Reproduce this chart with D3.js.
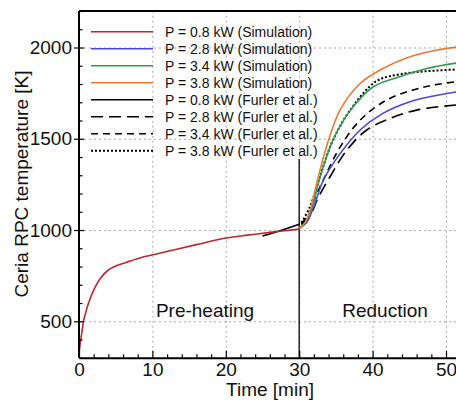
<!DOCTYPE html>
<html>
<head>
<meta charset="utf-8">
<style>
  body { margin: 0; background: #fff; }
  svg { display: block; font-family: "Liberation Sans", Arial, sans-serif; }
  .grid line { stroke: #aaa; stroke-dasharray: 2,3; stroke-width: 1; }
  .grid path { display: none; }
  .ax path { stroke: #000; stroke-width: 2; }
  .ax line { stroke: #000; stroke-width: 1.2; }
  .ax text { font-size: 19px; fill: #111; font-family: "Liberation Sans", Arial, sans-serif; }
</style>
</head>
<body>
<svg id="chart" width="456" height="402"></svg>
<script src="https://cdn.jsdelivr.net/npm/d3@7"></script>
<script>
// series data (time in min, temperature in K)
const tRed   = [0, 0.2, 0.4, 0.6, 1.0, 1.3, 2, 2.9, 4, 5, 6.3, 8.5, 10.4, 13, 16, 20, 23, 26, 28, 30]
const vRed   = [320, 390, 440, 498, 560, 600, 671, 735, 781, 803, 821, 850, 867, 892, 920, 956, 972, 987, 996, 1005]
const tBlue  = [30, 31, 32, 33.3, 35.6, 38.3, 41.4, 45.1, 48.3, 52, 55]
const vBlue  = [1010, 1040, 1130, 1274, 1420, 1548, 1639, 1703, 1734, 1760, 1775]
const tGreen = [30, 30.8, 31.8, 32.8, 34.6, 37, 40.1, 43.7, 47.4, 52, 55]
const vGreen = [1010, 1040, 1130, 1283, 1493, 1657, 1785, 1840, 1885, 1918, 1930]
const tOrange = [30, 30.6, 31.5, 32.6, 34, 35.6, 38.3, 41.4, 45.1, 48.3, 52, 55]
const vOrange = [1010, 1030, 1110, 1292, 1493, 1660, 1803, 1885, 1949, 1982, 2005, 2015]
const tF08 = [25, 27.4, 30.1]
const vF08 = [967, 996, 1033]
const tF28 = [30.3, 31.5, 32.5, 34.2, 36.5, 39.2, 42.4, 46, 52, 55]
const vF28 = [1030, 1080, 1170, 1292, 1438, 1548, 1612, 1657, 1688, 1700]
const tF34 = [30.3, 31.5, 32, 33.5, 35.6, 38.3, 41.9, 45.5, 48.3, 52, 55]
const vF34 = [1035, 1100, 1160, 1292, 1456, 1602, 1712, 1767, 1794, 1815, 1825]
const tF38 = [30.3, 31.5, 32.8, 34.6, 37, 40.5, 44, 48, 52, 55]
const vF38 = [1040, 1130, 1290, 1493, 1660, 1815, 1855, 1872, 1880, 1882]

const legendLabels = ["P = 0.8 kW (Simulation)", "P = 2.8 kW (Simulation)", "P = 3.4 kW (Simulation)", "P = 3.8 kW (Simulation)",
  "P = 0.8 kW (Furler et al.)", "P = 2.8 kW (Furler et al.)", "P = 3.4 kW (Furler et al.)", "P = 3.8 kW (Furler et al.)"]
const xTicks = [0, 10, 20, 30, 40, 50, 60]
const yTicks = [500, 1000, 1500, 2000]

let series = [
  {t: tRed, v: vRed, color: "#c1272d", dash: null},
  {t: tBlue, v: vBlue, color: "#4848dc", dash: null},
  {t: tGreen, v: vGreen, color: "#2e9e4e", dash: null},
  {t: tOrange, v: vOrange, color: "#ea7a30", dash: null},
  {t: tF08, v: vF08, color: "#000", dash: null},
  {t: tF28, v: vF28, color: "#000", dash: "12,6"},
  {t: tF34, v: vF34, color: "#000", dash: "7,5"},
  {t: tF38, v: vF38, color: "#000", dash: "2,2"}
]

let svg = d3.select("#chart")
let pLeft = 79, pTop = 11, pBottom = 357.8
let pRight = pLeft + 60 * 7.34

let x = d3.scaleLinear().domain([0, 60]).range([pLeft, pRight])
let y = d3.scaleLinear().domain([300, 2200]).range([pBottom, pTop])

// grid
svg.append("g").attr("class", "grid")
  .attr("transform", `translate(0,${pBottom})`)
  .call(d3.axisBottom(x).tickValues(xTicks.filter(d => d > 0)).tickSize(-(pBottom - pTop)).tickFormat(""))
svg.append("g").attr("class", "grid")
  .attr("transform", `translate(${pLeft},0)`)
  .call(d3.axisLeft(y).tickValues(yTicks).tickSize(-(pRight - pLeft)).tickFormat(""))

// phase separator
svg.append("line")
  .attr("x1", x(30)).attr("x2", x(30))
  .attr("y1", pBottom).attr("y2", y(1389))
  .attr("stroke", "#222").attr("stroke-width", 1.5)

svg.append("defs").append("clipPath").attr("id", "clip")
  .append("rect").attr("x", pLeft).attr("y", pTop).attr("width", pRight - pLeft).attr("height", pBottom - pTop)

let line = d3.line().x(d => x(d[0])).y(d => y(d[1])).curve(d3.curveCatmullRom.alpha(0.5))

// draw Furler lines under simulation ones
let order = [4, 5, 6, 7, 1, 2, 3, 0]
svg.append("g").attr("clip-path", "url(#clip)")
  .selectAll("path")
  .data(order.map(i => series[i]))
  .join("path")
  .attr("d", s => line(s.t.map((t, i) => [t, s.v[i]])))
  .attr("fill", "none")
  .attr("stroke", s => s.color)
  .attr("stroke-width", s => s.dash === "2,2" ? 2 : 1.6)
  .attr("stroke-dasharray", s => s.dash)

// axes
let minorX = d3.range(0, 61, 2).filter(d => d % 10 != 0)
let minorY = d3.range(300, 2201, 100).filter(d => d % 500 != 0)

let gx = svg.append("g").attr("class", "ax").attr("transform", `translate(0,${pBottom})`)
gx.call(d3.axisBottom(x).tickValues(xTicks).tickSize(-7).tickSizeOuter(0).tickPadding(5).tickFormat(d3.format("d")))
gx.append("g").call(d3.axisBottom(x).tickValues(minorX).tickSize(-3.5).tickSizeOuter(0).tickFormat(""))
  .select(".domain").remove()

let gy = svg.append("g").attr("class", "ax").attr("transform", `translate(${pLeft},0)`)
gy.call(d3.axisLeft(y).tickValues(yTicks).tickSize(5).tickSizeOuter(0).tickPadding(2).tickFormat(d3.format("d")))
gy.append("g").call(d3.axisLeft(y).tickValues(yTicks).tickSize(-5).tickFormat(""))
  .select(".domain").remove()
gy.append("g").call(d3.axisLeft(y).tickValues(minorY).tickSize(-3.5).tickFormat(""))
  .select(".domain").remove()
gy.select(".domain").attr("d", `M0,${pBottom}V${pTop}`)

// top border
svg.append("line").attr("x1", pLeft).attr("x2", pRight).attr("y1", pTop).attr("y2", pTop)
  .attr("stroke", "#000").attr("stroke-width", 2)

// legend
let leg = svg.append("g")
series.forEach((s, i) => {
  let ly = 31.7 + i * 17
  leg.append("line")
    .attr("x1", 91).attr("x2", 153).attr("y1", ly).attr("y2", ly)
    .attr("stroke", s.color)
    .attr("stroke-width", s.dash === "2,2" ? 2 : 1.6)
    .attr("stroke-dasharray", s.dash)
  leg.append("text").text(legendLabels[i])
    .attr("x", 165).attr("y", ly + 5)
    .attr("font-size", "14px").attr("fill", "#111")
})

// phase labels
svg.append("text").text("Pre-heating").attr("x", 205).attr("y", 317)
  .attr("text-anchor", "middle").attr("font-size", "19px").attr("fill", "#111")
svg.append("text").text("Reduction").attr("x", 385).attr("y", 317)
  .attr("text-anchor", "middle").attr("font-size", "19px").attr("fill", "#111")

// axis titles
svg.append("text").text("Time [min]").attr("x", 270).attr("y", 396)
  .attr("text-anchor", "middle").attr("font-size", "19px").attr("fill", "#111")
svg.append("text").text("Ceria RPC temperature [K]")
  .attr("transform", "translate(28,184) rotate(-90)")
  .attr("text-anchor", "middle").attr("font-size", "19px").attr("fill", "#111")
</script>
</body>
</html>
